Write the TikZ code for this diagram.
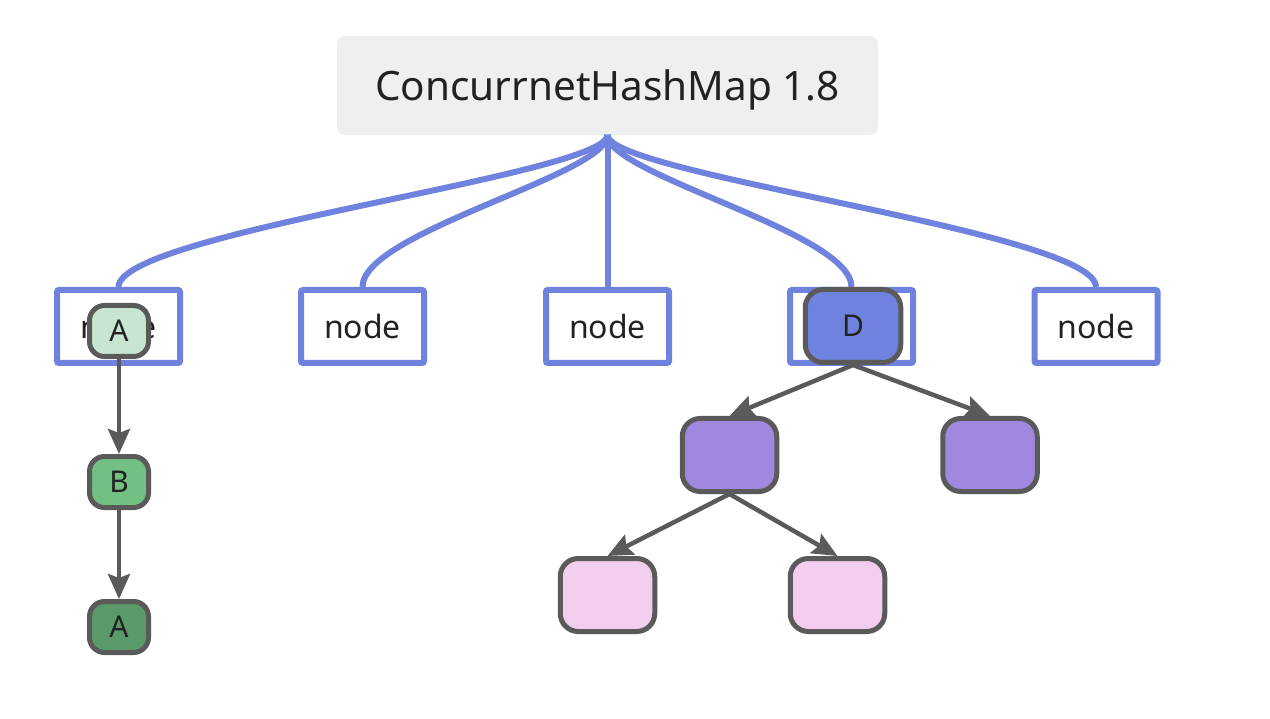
\documentclass[tikz,border=0pt]{standalone}
\usepackage{fontspec}
\setmainfont{Noto Sans}
\usetikzlibrary{arrows.meta}
\definecolor{bluel}{HTML}{6F82DD}
\definecolor{titlebg}{HTML}{EEF0EF}
\definecolor{edgegray}{HTML}{5A5A5A}
\definecolor{txt}{HTML}{222222}
\definecolor{gA}{HTML}{C8E6CF}
\definecolor{gB}{HTML}{72C083}
\definecolor{gC}{HTML}{5A9A6A}
\definecolor{purp}{HTML}{A088E0}
\definecolor{pink}{HTML}{F3CDEE}
\tikzset{
  titlebox/.style={fill=titlebg, rounded corners=8pt, minimum width=541pt, minimum height=99pt, inner sep=0pt},
  titletext/.style={inner sep=0pt, text=txt, font=\fontsize{40.5}{44}\selectfont},
  slot/.style={draw=bluel, line width=6pt, fill=white, rounded corners=2pt, minimum width=123pt, minimum height=73pt, inner sep=0pt, text=txt, font=\fontsize{32}{35}\selectfont},
  item/.style={draw=edgegray, line width=5pt, rounded corners=15pt, minimum width=59pt, minimum height=51pt, inner sep=0pt, text=txt, font=\fontsize{30}{33}\selectfont},
  treebox/.style={draw=edgegray, line width=5pt, rounded corners=18pt, minimum width=94.5pt, minimum height=73pt, inner sep=0pt, text=txt, font=\fontsize{30}{33}\selectfont},
  branch/.style={draw=bluel, line width=6pt},
  link/.style={draw=edgegray, line width=4.5pt, -{Stealth[length=25pt,width=22pt,inset=4pt]}},
}
\begin{document}
\begin{tikzpicture}[x=1pt,y=-1pt]
\useasboundingbox (0,0) rectangle (1270,719);
\node[titlebox] (title) at (607.5,85.5) {};
\node[titletext] (titlelbl) at (607.5,89.5) {ConcurrnetHashMap 1.8};
% branches
\coordinate (root) at (607.5,135);
\node[slot] (n1) at (118.5,326.5) {node};
\node[slot] (n2) at (362.5,326.5) {node};
\node[slot] (n3) at (607.5,326.5) {node};
\node[slot] (n4) at (851.5,326.5) {node};
\node[slot] (n5) at (1096,326.5) {node};
\draw[branch] (root) .. controls +(0,40) and +(0,-55) .. (n1.north);
\draw[branch] (root) .. controls +(0,40) and +(0,-55) .. (n2.north);
\draw[branch] (root) -- (n3.north);
\draw[branch] (root) .. controls +(0,40) and +(0,-55) .. (n4.north);
\draw[branch] (root) .. controls +(0,40) and +(0,-55) .. (n5.north);
% linked list
\node[item, fill=gA] (a1) at (119,331) {A};
\node[item, fill=gB] (b1) at (119,482) {B};
\node[item, fill=gC] (a2) at (119,627) {A};
\draw[link] (a1) -- (b1);
\draw[link] (b1) -- (a2);
% tree
\node[treebox, minimum width=95.5pt, fill=bluel] (d) at (853,326) {D};
\node[treebox, fill=purp] (p1) at (729.5,455) {};
\node[treebox, fill=purp] (p2) at (990,455) {};
\node[treebox, fill=pink] (k1) at (607.5,595) {};
\node[treebox, fill=pink] (k2) at (837.5,595) {};
\draw[link] (d.south) -- (p1.north);
\draw[link] (d.south) -- (p2.north);
\draw[link] (p1.south) -- (k1.north);
\draw[link] (p1.south) -- (k2.north);
\end{tikzpicture}
\end{document}
